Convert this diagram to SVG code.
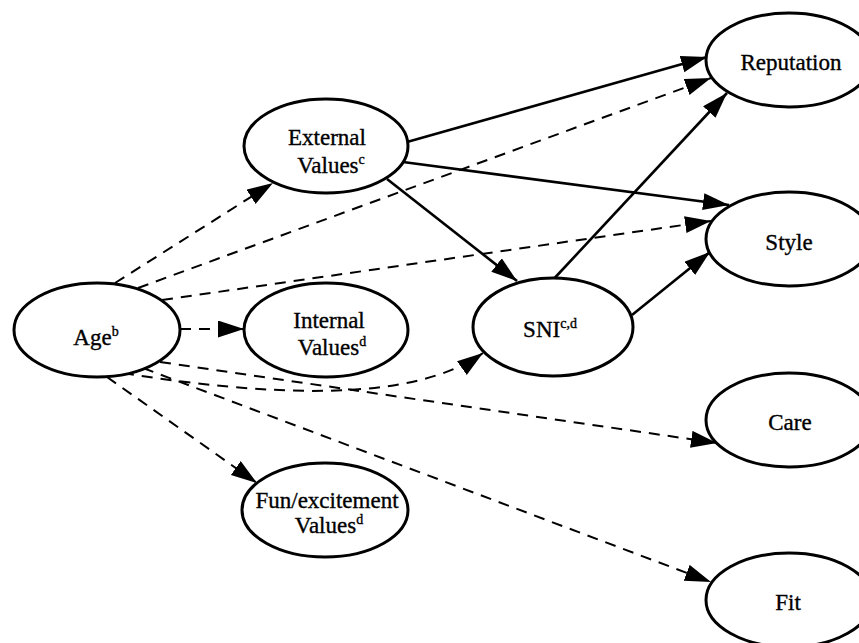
<svg xmlns="http://www.w3.org/2000/svg" width="859" height="643" viewBox="0 0 859 643">
<style>
.node ellipse{fill:#fff;stroke:#000;stroke-width:3}
.node text{font-family:"Liberation Serif","Times New Roman",serif;font-size:23px;fill:#000;stroke:#000;stroke-width:0.35;text-anchor:middle}
.sup{font-size:14px}
.edge{fill:none;stroke:#000}
.solid{stroke-width:2.6}
.dash{stroke-width:2;stroke-dasharray:11 8}
</style>
<defs>
<marker id="ah" markerUnits="userSpaceOnUse" markerWidth="27" markerHeight="18" refX="26" refY="8.5" orient="auto">
<path d="M0,0 L26,8.5 L0,17 z" fill="#000"/>
</marker>
</defs>
<rect width="859" height="643" fill="#fff"/>
<g id="connectors">
<path class="edge solid" d="M407,142 L707,57" marker-end="url(#ah)"/>
<path class="edge solid" d="M403,162 L729,205" marker-end="url(#ah)"/>
<path class="edge solid" d="M387,179 L517,281" marker-end="url(#ah)"/>
<path class="edge solid" d="M550,283 L727,93" marker-end="url(#ah)"/>
<path class="edge solid" d="M632,315 L710,252" marker-end="url(#ah)"/>
<path class="edge dash" d="M115,283 L273,183" marker-end="url(#ah)"/>
<path class="edge dash" d="M138,288 L711,78" marker-end="url(#ah)"/>
<path class="edge dash" d="M162,300 L711,221" marker-end="url(#ah)"/>
<path class="edge dash" d="M180,329 L244,329" marker-end="url(#ah)"/>
<path class="edge dash" d="M123,373 C260,395 410,405 483,353" marker-end="url(#ah)"/>
<path class="edge dash" d="M160,362 L717,443" marker-end="url(#ah)"/>
<path class="edge dash" d="M143,368 L711,582" marker-end="url(#ah)"/>
<path class="edge dash" d="M107,377 L257,483" marker-end="url(#ah)"/>
</g>
<g id="age" class="node">
<ellipse cx="97" cy="330" rx="83" ry="47"/>
<text x="96" y="345">Age<tspan class="sup" dy="-9">b</tspan></text>
</g>
<g id="external" class="node">
<ellipse cx="326" cy="146" rx="82" ry="47"/>
<text x="327" y="145">External</text>
<text x="331" y="173">Values<tspan class="sup" dy="-9">c</tspan></text>
</g>
<g id="internal" class="node">
<ellipse cx="326" cy="330" rx="82" ry="47"/>
<text x="329" y="328">Internal</text>
<text x="332" y="355">Values<tspan class="sup" dy="-9">d</tspan></text>
</g>
<g id="fun" class="node">
<ellipse cx="325" cy="510" rx="83" ry="47"/>
<text x="327" y="508">Fun/excitement</text>
<text x="329" y="533">Values<tspan class="sup" dy="-9">d</tspan></text>
</g>
<g id="sni" class="node">
<ellipse cx="553" cy="327" rx="80" ry="49"/>
<text x="550" y="337">SNI<tspan class="sup" dy="-9">c,d</tspan></text>
</g>
<g id="reputation" class="node">
<ellipse cx="789" cy="60" rx="83" ry="47"/>
<text x="791" y="70">Reputation</text>
</g>
<g id="style" class="node">
<ellipse cx="789" cy="239" rx="83" ry="47"/>
<text x="789" y="250">Style</text>
</g>
<g id="care" class="node">
<ellipse cx="789" cy="420" rx="83" ry="47"/>
<text x="790" y="430">Care</text>
</g>
<g id="fit" class="node">
<ellipse cx="789" cy="600" rx="83" ry="47"/>
<text x="788" y="610">Fit</text>
</g>
</svg>
